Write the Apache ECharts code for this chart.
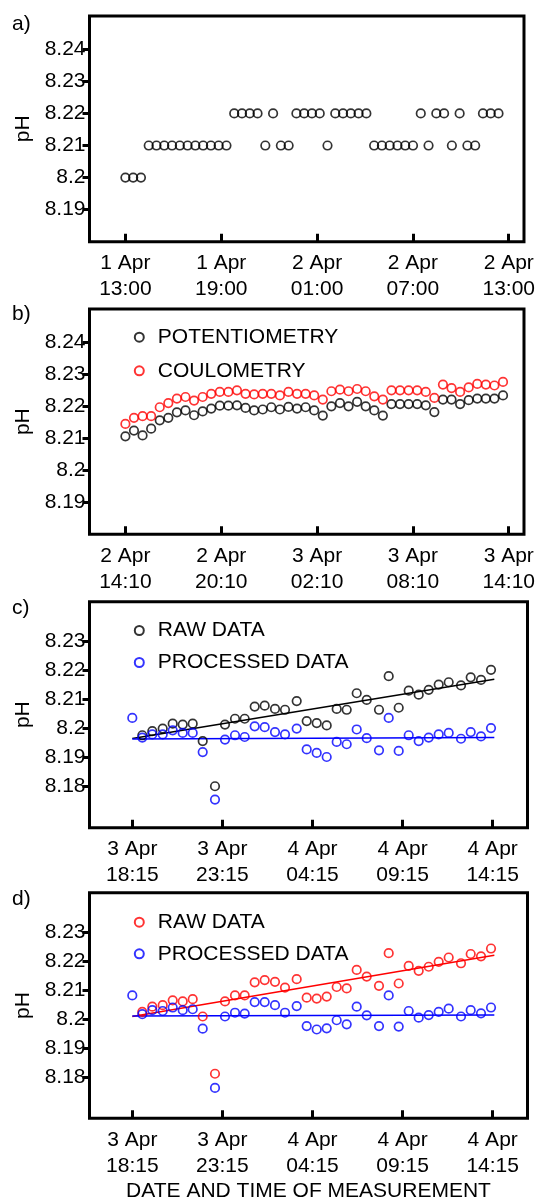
<!DOCTYPE html>
<html>
<head>
<meta charset="utf-8">
<script src="https://cdn.jsdelivr.net/npm/echarts@6/dist/echarts.min.js"></script>
<style>
html,body{margin:0;padding:0;background:#fff;}
#chart{width:538px;height:1204px;}
</style>
</head>
<body>
<div id="chart"></div>
<script>
// ---------------- DATA ----------------
// Panel a: pH every ~29 min from 1 Apr 13:00 (hours from first tick)
const stepAmin = 29.2;
const phA = [8.20,8.20,8.20,
  8.21,8.21,8.21,8.21,8.21,8.21,8.21,8.21,8.21,8.21,8.21,
  8.22,8.22,8.22,8.22,8.21,8.22,8.21,8.21,8.22,8.22,8.22,8.22,8.21,
  8.22,8.22,8.22,8.22,8.22,
  8.21,8.21,8.21,8.21,8.21,8.21,
  8.22,8.21,8.22,8.22,8.21,8.22,8.21,8.21,8.22,8.22,8.22];
const ticksA = ['1 Apr\n13:00','1 Apr\n19:00','2 Apr\n01:00','2 Apr\n07:00','2 Apr\n13:00'];

// Panel b: every ~32 min from 2 Apr 14:10
const stepBmin = 32.24;
const potB = [8.2106,8.2124,8.2109,8.2130,8.2156,8.2164,8.2181,8.2187,8.2172,8.2184,8.2193,8.2202,8.2202,8.2203,8.2195,8.2187,8.2190,8.2197,8.2190,8.2198,8.2193,8.2197,
  8.2187,8.2171,8.2200,8.2210,8.2200,8.2214,8.2200,8.2187,8.2171,8.2207,8.2207,8.2207,8.2207,8.2203,8.2182,8.2221,8.2221,8.2207,8.2219,8.2224,8.2224,8.2224,8.2234];
const coulB = [8.2145,8.2164,8.2169,8.2169,8.2197,8.2210,8.2224,8.2229,8.2218,8.2229,8.2239,8.2245,8.2245,8.2250,8.2239,8.2237,8.2239,8.2239,8.2234,8.2245,8.2239,8.2239,
  8.2234,8.2221,8.2247,8.2252,8.2247,8.2254,8.2247,8.2231,8.2221,8.2250,8.2250,8.2250,8.2250,8.2245,8.2226,8.2268,8.2257,8.2245,8.2259,8.2270,8.2268,8.2265,8.2276];
const ticksB = ['2 Apr\n14:10','2 Apr\n20:10','3 Apr\n02:10','3 Apr\n08:10','3 Apr\n14:10'];

// Panels c, d: measurement times in hours after 3 Apr 18:15
const timesCD = [0,0.555,1.110,1.687,2.242,2.797,3.352,3.907,4.589,5.144,5.699,6.237,6.792,7.347,7.919,8.474,9.123,9.678,
  10.233,10.788,11.343,11.898,12.453,13.008,13.690,14.229,14.784,15.339,15.893,16.448,17.003,17.558,18.241,18.779,19.351,19.906];
// first raw value is hidden behind the processed one in the picture
const rawC = [null,8.1976,8.1990,8.1999,8.2016,8.2013,8.2016,8.1956,8.1800,8.2013,8.2033,8.2033,8.2075,8.2078,8.2067,8.2064,8.2094,8.2025,
  8.2018,8.2010,8.2067,8.2064,8.2121,8.2098,8.2064,8.2180,8.2071,8.2130,8.2116,8.2133,8.2151,8.2159,8.2148,8.2176,8.2167,8.2202];
const procC = [8.2036,8.1968,8.1979,8.1979,8.1993,8.1984,8.1984,8.1918,8.1754,8.1961,8.1976,8.1970,8.2007,8.2004,8.1987,8.1979,8.1999,8.1927,
  8.1915,8.1901,8.1953,8.1945,8.1996,8.1966,8.1924,8.2036,8.1922,8.1976,8.1956,8.1968,8.1979,8.1984,8.1964,8.1987,8.1972,8.2001];
const rawD = [null,8.2025,8.2043,8.2048,8.2065,8.2061,8.2069,8.2009,8.1811,8.2061,8.2082,8.2082,8.2127,8.2135,8.2129,8.2109,8.2138,8.2074,
  8.2071,8.2078,8.2111,8.2106,8.2170,8.2147,8.2115,8.2228,8.2123,8.2184,8.2167,8.2181,8.2198,8.2213,8.2193,8.2225,8.2217,8.2244];
const procD = [8.2082,8.2017,8.2031,8.2028,8.2040,8.2031,8.2034,8.1967,8.1762,8.2009,8.2022,8.2019,8.2059,8.2059,8.2048,8.2022,8.2045,8.1976,
  8.1964,8.1968,8.1996,8.1982,8.2043,8.2013,8.1976,8.2082,8.1974,8.2028,8.2005,8.2014,8.2025,8.2036,8.2009,8.2031,8.2020,8.2040];
const trendRawC = [[0,8.1965],[20.09,8.2169]];
const trendProcC = [[0,8.1963],[20.09,8.1968]];
const trendRawD = [[0,8.2009],[20.09,8.2221]];
const trendProcD = [[0,8.2011],[20.09,8.2014]];
const ticksCD = ['3 Apr\n18:15','3 Apr\n23:15','4 Apr\n04:15','4 Apr\n09:15','4 Apr\n14:15'];

const yTicksAB = [8.19,8.20,8.21,8.22,8.23,8.24];
const yTicksCD = [8.18,8.19,8.20,8.21,8.22,8.23];

// ---------------- BUILD ----------------
const FONT = 'Liberation Sans, Arial, Helvetica, sans-serif';
const FS = 21;
const toXY = (xs, ys) => ys.map((v,i)=>[xs[i], v]);
const xsA = phA.map((_,i)=> i*stepAmin/60);
const xsB = potB.map((_,i)=> i*stepBmin/60);

const gridTops = [16, 309, 601.7, 892.7];
const gridH = [225.7, 225.3, 226, 225.6];
const grids = gridTops.map((t,i)=>({
  left: 89.5, width: 438, top: t, height: gridH[i],
  show: true, borderColor: '#000', borderWidth: 3, backgroundColor: 'transparent'
}));

function xAxisDef(idx, min, max, tickVals, labels, name){
  return {
    type: 'value', gridIndex: idx, min: min, max: max,
    splitLine: {show:false},
    axisLine: {show:false, onZero:false},
    axisTick: {show:true, inside:true, length:8, customValues: tickVals, lineStyle:{color:'#000', width:3}},
    axisLabel: {show:true, customValues: tickVals, margin: 9, color:'#000', fontSize: FS, lineHeight: 26, fontFamily: FONT,
      formatter: (v)=>{ const k = tickVals.findIndex(t=>Math.abs(t-v)<1e-6); return k>=0 ? labels[k] : ''; }},
    name: name || '', nameLocation:'middle', nameGap: 62,
    nameTextStyle: {color:'#000', fontSize: FS, fontFamily: FONT}
  };
}
function yAxisDef(idx, min, max, ticks){
  return {
    type:'value', gridIndex: idx, min: min, max: max,
    splitLine:{show:false},
    axisLine:{show:false, onZero:false},
    axisTick:{show:true, inside:false, length:7, customValues: ticks, lineStyle:{color:'#000', width:3}},
    axisLabel:{show:true, customValues: ticks, margin: 4, color:'#000', fontSize:FS, fontFamily: FONT,
      formatter: (v)=> String(Math.round(v*100)/100)},
    name:'pH', nameLocation:'middle', nameRotate: 90, nameGap: 50,
    nameTextStyle:{color:'#000', fontSize:FS, fontFamily: FONT}
  };
}
const tickHoursAB = [0,6,12,18,24];
const tickHoursCD = [0,5,10,15,20];

function scatter(name, data, color, gi){
  return {
    type:'scatter', name: name, xAxisIndex: gi, yAxisIndex: gi, data: data,
    symbol:'circle', symbolSize: 8.5,
    itemStyle:{color:'rgba(0,0,0,0)', borderColor: color, borderWidth: 1.7},
    emphasis:{disabled:true}, z: 3
  };
}
function trend(data, color, gi){
  return {
    type:'line', xAxisIndex: gi, yAxisIndex: gi, data: data, symbol:'none',
    lineStyle:{color: color, width: 1.5}, emphasis:{disabled:true}, z: 2, silent: true
  };
}
function legendDef(top, names, gap){
  return {
    orient:'vertical', left: 133.8, top: top, padding: 0, itemGap: gap,
    itemWidth: 9, itemHeight: 9, selectedMode: false,
    data: names,
    formatter: (n)=> n.trim(),
    textStyle:{color:'#000', fontSize:FS, fontFamily: FONT, lineHeight: 20, padding:[0,0,0,9]}
  };
}

const option = {
  animation: false,
  backgroundColor: '#fff',
  title: [
    {text:'a)', left: 12, top: 14},
    {text:'b)', left: 12, top: 304},
    {text:'c)', left: 12, top: 598},
    {text:'d)', left: 12, top: 889}
  ].map(t=>Object.assign(t,{padding:0, textStyle:{color:'#000', fontSize:FS, fontWeight:'normal', fontFamily: FONT}})),
  grid: grids,
  xAxis: [
    xAxisDef(0, -2.248, 24.956, tickHoursAB, ticksA),
    xAxisDef(1, -2.248, 24.956, tickHoursAB, ticksB),
    xAxisDef(2, -2.375, 21.931, tickHoursCD, ticksCD),
    xAxisDef(3, -2.375, 21.931, tickHoursCD, ticksCD, 'DATE AND TIME OF MEASUREMENT')
  ],
  yAxis: [
    yAxisDef(0, 8.18, 8.2504, yTicksAB),
    yAxisDef(1, 8.18, 8.2504, yTicksAB),
    yAxisDef(2, 8.1657, 8.2437, yTicksCD),
    yAxisDef(3, 8.1657, 8.2437, yTicksCD)
  ],
  legend: [
    legendDef(326.7, ['POTENTIOMETRY','COULOMETRY'], 12.6),
    legendDef(620, ['RAW DATA','PROCESSED DATA'], 11),
    legendDef(911.7, ['RAW DATA ','PROCESSED DATA '], 10.6)
  ],
  series: [
    scatter('pH a', toXY(xsA, phA), '#000', 0),
    scatter('POTENTIOMETRY', toXY(xsB, potB), '#000', 1),
    scatter('COULOMETRY', toXY(xsB, coulB), '#ff0000', 1),
    trend(trendRawC, '#000', 2),
    trend(trendProcC, '#0000ff', 2),
    scatter('RAW DATA', toXY(timesCD, rawC), '#000', 2),
    scatter('PROCESSED DATA', toXY(timesCD, procC), '#0000ff', 2),
    trend(trendRawD, '#ff0000', 3),
    trend(trendProcD, '#0000ff', 3),
    scatter('RAW DATA ', toXY(timesCD, rawD), '#ff0000', 3),
    scatter('PROCESSED DATA ', toXY(timesCD, procD), '#0000ff', 3)
  ]
};
const chart = echarts.init(document.getElementById('chart'), null, {renderer:'canvas'});
chart.setOption(option);
</script>
</body>
</html>
